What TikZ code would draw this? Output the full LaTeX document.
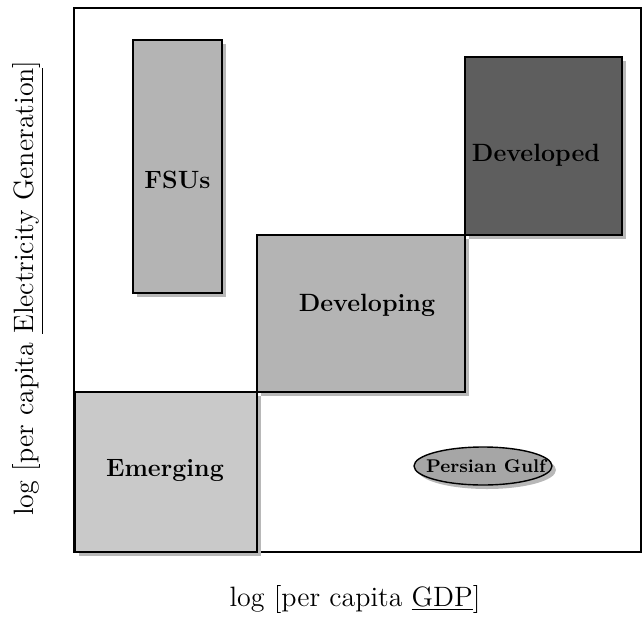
\documentclass[tikz,border=0pt]{standalone}
\usetikzlibrary{shapes.geometric,shadows}
\definecolor{lightfill}{HTML}{C9C9C9}
\definecolor{midfill}{HTML}{B4B4B4}
\definecolor{darkfill}{HTML}{5E5E5E}
\definecolor{gulffill}{HTML}{A6A6A6}
\definecolor{shadowgray}{HTML}{B8B8B8}
\begin{document}
\begin{tikzpicture}[x=0.5pt,y=-0.5pt,
  region/.style={draw=black,line width=0.7pt,inner sep=0pt,
    drop shadow={shadow xshift=2pt,shadow yshift=-2pt,fill=shadowgray,opacity=1}},
  lbl/.style={font=\fontsize{12.5}{14}\selectfont\bfseries,inner sep=0pt},
  smalllbl/.style={font=\fontsize{9.2}{12}\selectfont\bfseries,inner sep=0pt},
  axis/.style={font=\fontsize{14}{16}\selectfont,inner sep=0pt}]
\useasboundingbox (0,0) rectangle (644,617);
\node[draw=black,line width=1pt,minimum width=283.5pt,minimum height=272pt,inner sep=0pt] (frame) at (357.5,280) {};
\node[region,fill=midfill,minimum width=44.5pt,minimum height=126.5pt] (fsu) at (177.5,166.5) {};
\node[region,fill=darkfill,minimum width=78.5pt,minimum height=89pt] (dvd) at (543.5,146) {};
\node[region,fill=midfill,minimum width=104pt,minimum height=78.5pt] (dvg) at (361,313.5) {};
\node[region,fill=lightfill,minimum width=91pt,minimum height=80pt] (emg) at (166,472) {};
\node[region,ellipse,fill=gulffill,minimum width=69pt,minimum height=19pt] (gulf) at (483,466) {};
\node[lbl] (fsut) at (177.5,180) {FSUs};
\node[lbl] (dvdt) at (536,155) {Developed};
\node[lbl] (dvgt) at (367,305) {Developing};
\node[lbl] (emgt) at (165,470) {Emerging};
\node[smalllbl] (gulft) at (486,466) {Persian Gulf};
\node[axis] (xlab) at (355,599) {log [per capita \underline{GDP}]};
\node[axis,rotate=90] (ylab) at (28,288) {log [per capita \underline{Electricity Generation}]};
\end{tikzpicture}
\end{document}
